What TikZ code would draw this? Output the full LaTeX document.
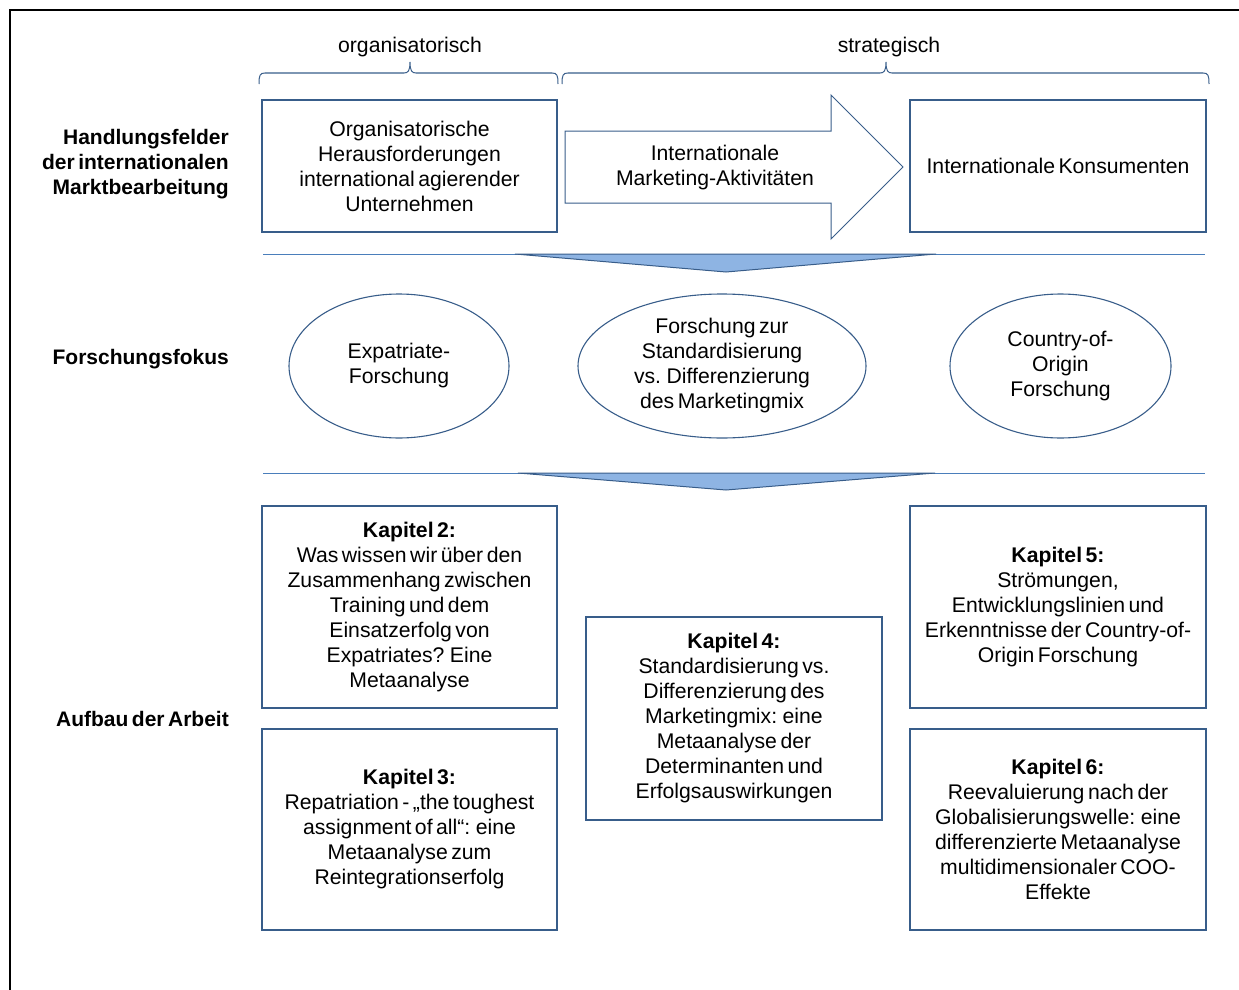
\documentclass[tikz,border=0pt]{standalone}
\usepackage{fontspec}
\setmainfont[WordSpace=0.6]{Liberation Sans}
\usetikzlibrary{shapes.geometric}
\definecolor{bord}{RGB}{56,93,138}
\definecolor{tri}{RGB}{142,180,227}
\definecolor{sep}{RGB}{74,126,187}
\begin{document}
\begin{tikzpicture}[x=1pt,y=-1pt,
  every node/.style={font=\fontsize{21.2}{25}\selectfont, align=center, inner sep=0pt, text=black},
  box/.style={draw=bord, line width=1.3pt, fill=white},
  oval/.style={draw=bord, line width=1.1pt, ellipse, minimum width=220pt, minimum height=144pt},
  rowlabel/.style={anchor=east, align=right, font=\fontsize{21}{25}\selectfont\bfseries},
  brc/.style={draw=bord, line width=1pt},
  sepline/.style={draw=sep, line width=1pt},
  tipfill/.style={fill=tri, draw=bord, line width=1pt, line join=miter}]
\useasboundingbox (0,0) rectangle (1239,990);
% outer frame
\draw[line width=2.2pt] (10,991) -- (10,10) -- (1240,10);

% braces and headings
\draw[brc] (259,84) .. controls (259,75) and (260,73) .. (265,73) -- (404,73)
  .. controls (408,73) and (410,71) .. (410,62) .. controls (410,71) and (412,73) .. (416,73)
  -- (552,73) .. controls (557,73) and (558,75) .. (558,84);
\draw[brc] (562,84) .. controls (562,75) and (563,73) .. (568,73) -- (880,73)
  .. controls (884,73) and (886,71) .. (886,62) .. controls (886,71) and (888,73) .. (892,73)
  -- (1203,73) .. controls (1208,73) and (1209,75) .. (1209,84);
\node (org) at (410,47) {organisatorisch};
\node (str) at (889,47) {strategisch};

% row labels
\node[rowlabel] (l1) at (229,164) {Handlungsfelder\\der internationalen\\Marktbearbeitung};
\node[rowlabel] (l2) at (229,359) {Forschungsfokus};
\node[rowlabel] (l3) at (229,719) {Aufbau der Arbeit};

% top row
\node[box, minimum width=295pt, minimum height=132pt] (a) at (409.5,166)
  {Organisatorische\\Herausforderungen\\international agierender\\Unternehmen};
\draw[draw=bord, line width=1pt, line join=miter, fill=white]
  (565,131) -- (831,131) -- (831,95) -- (903,167) -- (831,239) -- (831,203) -- (565,203) -- cycle;
\node (b) at (715,168) {Internationale\\Marketing-Aktivitäten};
\node[box, minimum width=296pt, minimum height=132pt] (c) at (1058,166)
  {Internationale Konsumenten};

% separators
\draw[sepline] (263,254) -- (1205,254);
\draw[tipfill] (515,254) -- (936,254) -- (726,272) -- cycle;
\draw[sepline] (263,473) -- (1205,473);
\draw[tipfill] (518,473) -- (935,473) -- (726,490) -- cycle;

% research focus
\node[oval] (e1) at (399,366) {Expatriate-\\Forschung};
\node[oval, minimum width=288pt] (e2) at (722,366) {Forschung zur\\Standardisierung\\vs. Differenzierung\\des Marketingmix};
\node[oval, minimum width=221pt] (e3) at (1060.5,366) {Country-of-\\Origin\\Forschung};

% chapters
\node[box, minimum width=295pt, minimum height=202pt] (k2) at (409.5,607)
  {\textbf{Kapitel 2:}\\Was wissen wir über den\\Zusammenhang zwischen\\Training und dem\\Einsatzerfolg von\\Expatriates? Eine\\Metaanalyse};
\node[box, minimum width=295pt, minimum height=201pt] (k3) at (409.5,829.5)
  {\textbf{Kapitel 3:}\\Repatriation - „the toughest\\assignment of all“: eine\\Metaanalyse zum\\Reintegrationserfolg};
\node[box, minimum width=296pt, minimum height=203pt] (k4) at (734,718.5)
  {\textbf{Kapitel 4:}\\Standardisierung vs.\\Differenzierung des\\Marketingmix: eine\\Metaanalyse der\\Determinanten und\\Erfolgsauswirkungen};
\node[box, minimum width=296pt, minimum height=202pt] (k5) at (1058,607)
  {\textbf{Kapitel 5:}\\Strömungen,\\Entwicklungslinien und\\Erkenntnisse der Country-of-\\Origin Forschung};
\node[box, minimum width=296pt, minimum height=201pt] (k6) at (1058,829.5)
  {\textbf{Kapitel 6:}\\Reevaluierung nach der\\Globalisierungswelle: eine\\differenzierte Metaanalyse\\multidimensionaler COO-\\Effekte};
\end{tikzpicture}
\end{document}
